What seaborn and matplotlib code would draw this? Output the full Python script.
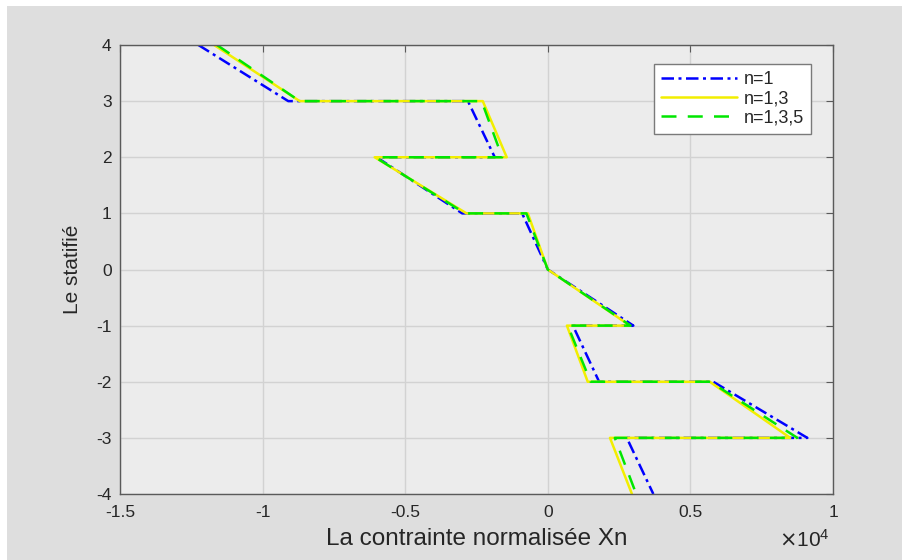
import matplotlib
matplotlib.use("Agg")
import matplotlib.pyplot as plt
from matplotlib.patches import Rectangle
import seaborn as sns
import pandas as pd

# Layer levels (y) visited by each profile
levels = [4, 3, 3, 2, 2, 1, 1, 0, -1, -1, -2, -2, -3, -3, -4]
# Normalised stress Xn, in units of 1e4
x_n1 = [-1.225, -0.91, -0.28, -0.186, -0.60, -0.30, -0.09, 0.0, 0.30, 0.088, 0.18, 0.58, 0.91, 0.277, 0.37]
x_n13 = [-1.17, -0.87, -0.228, -0.144, -0.607, -0.285, -0.07, 0.0, 0.288, 0.067, 0.14, 0.568, 0.85, 0.218, 0.295]
x_n135 = [-1.16, -0.87, -0.232, -0.16, -0.605, -0.29, -0.075, 0.0, 0.29, 0.07, 0.15, 0.57, 0.875, 0.235, 0.31]
series_names = ["n=1", "n=1,3", "n=1,3,5"]
xticks = [-1.5, -1, -0.5, 0, 0.5, 1]
xticklabels = ["-1.5", "-1", "-0.5", "0", "0.5", "1"]
yticks = [-4, -3, -2, -1, 0, 1, 2, 3, 4]

rows = []
for name, xs in zip(series_names, [x_n1, x_n13, x_n135]):
    for i, (xv, yv) in enumerate(zip(xs, levels)):
        rows.append({"serie": name, "order": i, "x": xv, "y": yv})
df = pd.DataFrame(rows)

sns.set_theme(style="white")
plt.rcParams['font.family'] = ['Liberation Sans', 'DejaVu Sans']

fig = plt.figure(figsize=(9.03, 5.60), dpi=100)
fig.patch.set_facecolor("white")
fig.patches.append(Rectangle((7/903, 0), 1 - 7/903, 1 - 6/560, transform=fig.transFigure,
                             facecolor="#dedede", edgecolor="none", zorder=-10))
ax = fig.add_axes([120/903, 1 - 494/560, (833 - 120)/903, (494 - 45)/560])
ax.set_facecolor("#ececec")

styles = {
    "n=1": dict(color="#0000ff", dashes=(5, 1.8, 1.2, 1.8)),
    "n=1,3": dict(color="#f2ee00", dashes=None),
    "n=1,3,5": dict(color="#00e600", dashes=(6, 4.5)),
}
for name in series_names:
    sub = df[df["serie"] == name].sort_values("order")
    st = styles[name]
    sns.lineplot(data=sub, x="x", y="y", sort=False, ax=ax, color=st["color"],
                 linewidth=1.8, label=name, estimator=None)
    line = ax.lines[-1]
    if st["dashes"] is not None:
        line.set_dashes(st["dashes"])

ax.set_xlim(-1.5, 1)
ax.set_ylim(-4, 4)
ax.set_xticks(xticks)
ax.set_xticklabels(xticklabels)
ax.set_yticks(yticks)
ax.set_yticklabels([str(v) for v in yticks])
ax.grid(True, color="#d2d2d2", linewidth=1)
ax.set_axisbelow(True)
for s in ax.spines.values():
    s.set_color("#5a5a5a")
    s.set_linewidth(1)
ax.tick_params(direction="in", length=5, width=0.8, color="#5a5a5a",
               top=True, right=True, labelsize=12.5, labelcolor="#262626")
ax.tick_params(axis="x", pad=8)
ax.tick_params(axis="y", pad=6)
ax.set_xlabel("La contrainte normalisée Xn", fontsize=17.5, color="#262626", labelpad=6)
ax.set_ylabel("Le statifié", fontsize=15, color="#262626", labelpad=10)
fig.text(779/903, 1 - 540/560, r"$\times\mathregular{10^{4}}$", fontsize=15,
         color="#262626", ha="left", va="center")

leg = ax.legend(loc="upper right", bbox_to_anchor=(0.969, 0.958), borderaxespad=0,
                fontsize=13, frameon=True, fancybox=False, edgecolor="#7a7a7a",
                facecolor="white", framealpha=1, handlelength=4.2, handletextpad=0.35,
                borderpad=0.4, labelspacing=0.12)
leg.get_frame().set_linewidth(1)

fig.savefig("out.png", dpi=100)
